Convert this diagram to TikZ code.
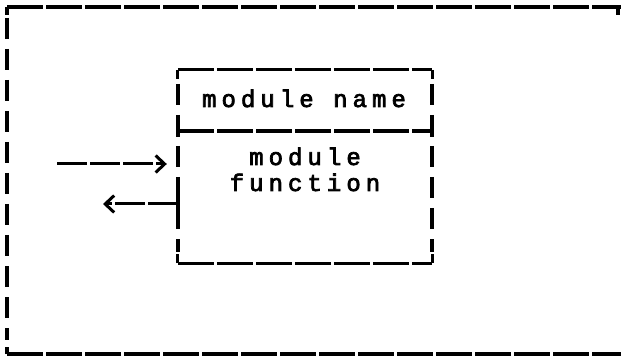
\documentclass[tikz,border=0pt]{standalone}
\usepackage{fontspec}
\newfontfamily\tw{Liberation Mono}[LetterSpace=21, FakeBold=3]
\usetikzlibrary{arrows.meta}
\tikzset{
  hline/.style={line width=3.2pt, dash pattern=on 36pt off 3pt},
  vline/.style={line width=3.6pt, dash pattern=on 21pt off 10pt},
  solidline/.style={line width=3.2pt},
  txt/.style={font=\tw\fontsize{24pt}{26pt}\selectfont, inner sep=0pt, anchor=base},
  arr/.style={line width=3pt, dash pattern=on 30pt off 3pt, -{Straight Barb[length=9pt, width=17pt, line width=3pt]}}
}
\begin{document}
\begin{tikzpicture}[x=1pt, y=-1pt]
\useasboundingbox (0,0) rectangle (621,358);
% outer frame
\coordinate (otl) at (7,7);
\coordinate (otr) at (623,7);
\coordinate (obl) at (7,354);
\coordinate (obr) at (623,354);
\coordinate (ovs) at (7,18);
\coordinate (ove) at (7,340);
\draw[hline] (otl) -- (otr);
\draw[hline] (obl) -- (obr);
\draw[solidline] (otl) -- ++(0,8);
\draw[solidline] (obl) -- ++(0,-7);
\draw[vline] (ovs) -- (ove);
\draw[solidline] (618,7) -- (618,15);
% module box
\node[minimum width=254pt, minimum height=193pt, inner sep=0pt] (box) at (305,166.5) {};
\coordinate (sepl) at (178,131);
\coordinate (sepr) at (432,131);
\coordinate (lvs) at (178,84);
\coordinate (lve) at (178,252);
\coordinate (rvs) at (432,84);
\coordinate (rve) at (432,252);
\draw[hline] (box.north west) -- (box.north east);
\draw[hline] (box.south west) -- (box.south east);
\draw[hline] (sepl) -- (sepr);
\draw[vline] (lvs) -- (lve);
\draw[vline] (rvs) -- (rve);
% corner hooks and ticks
\draw[solidline] (box.north west) -- ++(0,9);
\draw[solidline] (box.north east) -- ++(0,9);
\draw[solidline] (box.south west) -- ++(0,-9);
\draw[solidline] (box.south east) -- ++(0,-9);
\draw[solidline] (sepl) -- ++(0,-6) (sepl) -- ++(0,6);
\draw[solidline] (sepr) -- ++(0,-6) (sepr) -- ++(0,6);
% texts
\node[txt] (name) at (304,107) {module name};
\node[txt] (mod) at (305,165) {module};
\node[txt] (func) at (305,191) {function};
% arrows
\coordinate (inS) at (57,164);
\coordinate (outE) at (103,204);
\coordinate (tkA) at (178,197);
\coordinate (tkB) at (178,211);
\draw[arr, shorten >=11pt] (inS) -- (inS -| box.west);
\draw[arr] (outE -| box.west) -- (outE);
\draw[solidline] (tkA) -- (tkB);
\end{tikzpicture}
\end{document}
